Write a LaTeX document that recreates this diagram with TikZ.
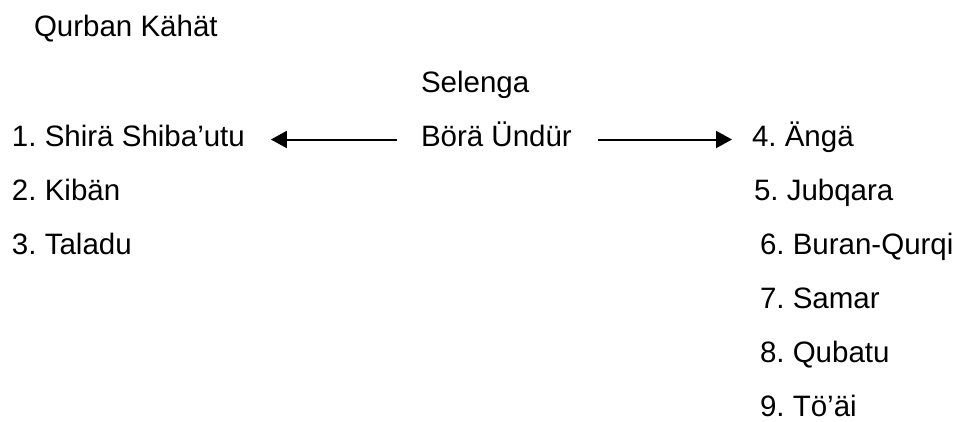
\documentclass[tikz,border=0pt]{standalone}
\usepackage{fontspec}
\setmainfont{Liberation Sans}
\usetikzlibrary{arrows.meta}
\begin{document}
\frenchspacing
\begin{tikzpicture}[x=1pt,y=-1pt,
  lbl/.style={inner sep=0pt, outer sep=0pt, anchor=base west, text height=20pt, text depth=6pt,
    font=\fontsize{29.5}{34}\selectfont},
  arr/.style={line width=2pt, -{Triangle[length=16pt,width=17pt]}}]
\useasboundingbox (0,0) rectangle (957,421);
\node[lbl] (qk) at (34,36.7) {Qurban Kähät};
\node[lbl] (sel) at (421,92) {Selenga};
\node[lbl] (bu) at (421,146.5) {Börä Ündür};
\node[lbl] (n1) at (12,146.5) {1. Shirä Shiba’utu};
\node[lbl] (n2) at (12,200.5) {2. Kibän};
\node[lbl] (n3) at (12,254.5) {3. Taladu};
\node[lbl] (n4) at (752,146.5) {4. Ängä};
\node[lbl] (n5) at (754,200.5) {5. Jubqara};
\node[lbl] (n6) at (760,254.5) {6. Buran-Qurqi};
\node[lbl] (n7) at (760,308.5) {7. Samar};
\node[lbl] (n8) at (760,362.5) {8. Qubatu};
\node[lbl] (n9) at (760,416.5) {9. Tö’äi};
\draw[arr, shorten <=24pt, shorten >=26pt] (bu.west) -- (n1.east);
\draw[arr, shorten <=26pt, shorten >=20pt] (bu.east) -- (n4.west);
\end{tikzpicture}
\end{document}
